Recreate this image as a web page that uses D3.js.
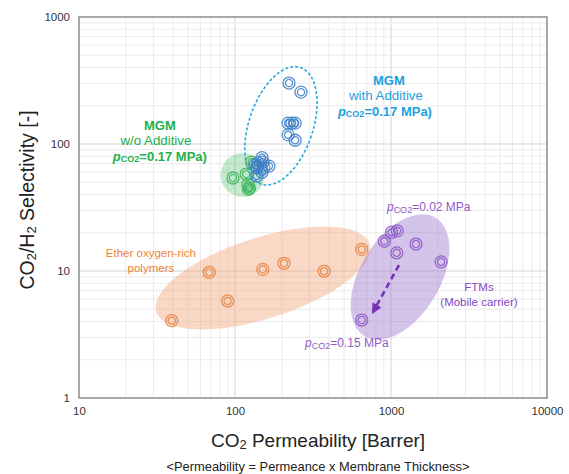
<!DOCTYPE html>
<html><head><meta charset="utf-8">
<script src="https://cdn.jsdelivr.net/npm/d3@7"></script>
<style>body{margin:0;background:#fff}svg{display:block}</style>
</head><body><svg id="c" width="569" height="474"></svg>
<script>
// ---- data ----
const xTicks = [10, 100, 1000, 10000];
const yTicks = [1, 10, 100, 1000];
// MGM with additive [CO2 permeability (Barrer), CO2/H2 selectivity]
const mgmWithAdditive = [
  [222, 302], [265, 256], [219, 146], [232, 146], [243, 146], [219, 118], [243, 107],
  [149, 78], [140, 71], [151, 72], [165, 67], [138, 65], [153, 65], [138, 56], [149, 60], [134, 68]
];
// MGM without additive
const mgmNoAdditive = [[97, 54], [118, 58], [128, 72], [121, 48], [124, 45], [122, 44]];
// Ether oxygen-rich polymers
const etherPolymers = [[39.3, 4.06], [68.4, 9.77], [89.7, 5.81], [150.7, 10.3], [206, 11.5], [373, 9.96], [649, 14.8]];
// FTMs (mobile carrier)
const ftms = [[906, 17.2], [1009, 20.2], [1096, 20.7], [1088, 13.9], [1446, 16.3], [2094, 11.8], [649, 4.11]];
// region centres (data units)
const greenRegion = [112, 57];
const blueRegion = [197, 139];
const orangeRegion = [151, 8.81];
const purpleRegion = [1143, 8.97];
// arrow 0.02 MPa -> 0.15 MPa
const arrowFrom = [1125, 11.1], arrowTo = [767, 4.75];

// ---- drawing ----
const svg = d3.select("#c");
const x = d3.scaleLog().domain([10, 10000]).range([79, 547]);
const y = d3.scaleLog().domain([1, 1000]).range([398, 17]);
const FONT = "'Liberation Sans', Arial, sans-serif";

// grid
const minor = [];
for (const d of [1, 10, 100, 1000]) for (let k = 1; k < 10; k++) minor.push(d * k);
const g = svg.append("g");
g.selectAll("line.vx").data(minor.filter(v => v > 10 && v < 10000)).join("line")
  .attr("x1", d => x(d)).attr("x2", d => x(d)).attr("y1", y(1)).attr("y2", y(1000))
  .attr("stroke", d => xTicks.includes(d) ? "#d4d4d4" : "#ebebeb").attr("stroke-width", 1);
g.selectAll("line.hy").data(minor.filter(v => v > 1 && v < 1000)).join("line")
  .attr("y1", d => y(d)).attr("y2", d => y(d)).attr("x1", x(10)).attr("x2", x(10000))
  .attr("stroke", d => yTicks.includes(d) ? "#d4d4d4" : "#ebebeb").attr("stroke-width", 1);
svg.append("rect").attr("x", x(10)).attr("y", y(1000)).attr("width", x(10000) - x(10)).attr("height", y(1) - y(1000))
  .attr("fill", "none").attr("stroke", "#8c8c8c").attr("stroke-width", 1.5);

// axes (labels only)
const xa = svg.append("g").attr("transform", `translate(0,${y(1)})`)
  .call(d3.axisBottom(x).tickValues(xTicks).tickFormat(d3.format("d")).tickSize(0).tickPadding(9));
const ya = svg.append("g").attr("transform", `translate(${x(10)},0)`)
  .call(d3.axisLeft(y).tickValues(yTicks).tickFormat(d3.format("d")).tickSize(0).tickPadding(9));
[xa, ya].forEach(a => { a.select(".domain").remove(); a.selectAll("text").attr("font-family", FONT).attr("font-size", 11.5).attr("fill", "#333"); });

// regions
function ell(c, rx, ry, rot, fill, op) {
  return svg.append("ellipse").attr("cx", 0).attr("cy", 0).attr("rx", rx).attr("ry", ry)
    .attr("transform", `translate(${x(c[0])},${y(c[1])}) rotate(${rot})`)
    .attr("fill", fill).attr("fill-opacity", op);
}
ell(orangeRegion, 112, 40.5, -17.7, "#f0a070", 0.4);
ell(purpleRegion, 40, 69, 31, "#a07cd0", 0.45);
ell(greenRegion, 22, 22, 0, "#3cb55a", 0.3);
ell(blueRegion, 32, 61.5, 18.6, "none", 0).attr("stroke", "#2aa8e2").attr("stroke-width", 1.6).attr("stroke-dasharray", "3,2");

// markers
function rings(data, color) {
  const gg = svg.append("g");
  const s = gg.selectAll("g").data(data).join("g").attr("transform", d => `translate(${x(d[0])},${y(d[1])})`);
  s.append("circle").attr("r", 6).attr("fill", "none").attr("stroke", color).attr("stroke-width", 1.3).attr("stroke-opacity", 0.85);
  s.append("circle").attr("r", 3.6).attr("fill", "none").attr("stroke", color).attr("stroke-width", 1.3).attr("stroke-opacity", 0.85);
}
rings(etherPolymers, "#e57f3d");
rings(ftms, "#8a52c6");
rings(mgmNoAdditive, "#3cb55a");
rings(mgmWithAdditive, "#3b7ec8");

// arrow
svg.append("defs").append("marker").attr("id", "ah").attr("viewBox", "0 0 10 10").attr("refX", 8).attr("refY", 5)
  .attr("markerWidth", 4).attr("markerHeight", 4).attr("orient", "auto")
  .append("path").attr("d", "M0,0 L10,5 L0,10 z").attr("fill", "#7432b6");
svg.append("line").attr("x1", x(arrowFrom[0])).attr("y1", y(arrowFrom[1])).attr("x2", x(arrowTo[0])).attr("y2", y(arrowTo[1]))
  .attr("stroke", "#7432b6").attr("stroke-width", 2.6).attr("stroke-dasharray", "6,4").attr("marker-end", "url(#ah)");

// annotation helper
function text(px, py, anchor, color, size, weight) {
  return svg.append("text").attr("x", px).attr("y", py).attr("text-anchor", anchor).attr("fill", color)
    .attr("font-family", FONT).attr("font-size", size).attr("font-weight", weight).attr("dominant-baseline", "central");
}
function pLabel(t, value, subSize) {
  t.append("tspan").attr("font-style", "italic").text("p");
  t.append("tspan").attr("font-size", subSize).attr("dy", 3).text("CO2");
  t.append("tspan").attr("dy", -3).text(value);
}
// MGM w/o additive
{
  const cx = x(33), cy = y(141);
  text(cx, cy, "middle", "#22b14c", 13, "bold").text("MGM");
  text(cx - 4, cy + 15.5, "middle", "#22b14c", 13.3, "normal").text("w/o Additive");
  pLabel(text(cx, cy + 31, "middle", "#22b14c", 13, "bold"), "=0.17 MPa)", 9);
}
// MGM with additive
{
  const cx = x(970), cy = y(319);
  text(cx, cy, "middle", "#1ea0e0", 13, "bold").text("MGM");
  text(cx - 3, cy + 15.5, "middle", "#1ea0e0", 13.3, "normal").text("with Additive");
  pLabel(text(cx - 4, cy + 31, "middle", "#1ea0e0", 13, "bold"), "=0.17 MPa)", 9);
}
// Ether oxygen-rich polymers
{
  const cx = x(28.9), cy = y(13.9);
  text(cx, cy, "middle", "#f08232", 11.5, "normal").text("Ether oxygen-rich");
  text(cx, cy + 15.5, "middle", "#f08232", 11.5, "normal").text("polymers");
}
// FTMs
{
  const cx = x(3664), cy = y(7.48);
  text(cx, cy, "middle", "#8447c2", 11.5, "normal").text("FTMs");
  text(cx, cy + 15, "middle", "#8447c2", 11.5, "normal").text("(Mobile carrier)");
  pLabel(text(x(942), y(31.9), "start", "#8f5cc8", 12, "normal"), "=0.02 MPa", 9);
  pLabel(text(x(281), y(2.71), "start", "#8f5cc8", 12, "normal"), "=0.15 MPa", 9);
}

// axis titles
{
  const t = svg.append("text").attr("transform", `translate(27,200) rotate(-90)`)
    .attr("text-anchor", "middle").attr("dominant-baseline", "central").attr("font-family", FONT).attr("font-size", 19.5).attr("fill", "#222");
  t.append("tspan").text("CO");
  t.append("tspan").attr("font-size", 13).attr("dy", 4).text("2");
  t.append("tspan").attr("dy", -4).text("/H");
  t.append("tspan").attr("font-size", 13).attr("dy", 4).text("2");
  t.append("tspan").attr("dy", -4).text(" Selectivity [-]");
}
{
  const t = svg.append("text").attr("x", 318).attr("y", 440)
    .attr("text-anchor", "middle").attr("dominant-baseline", "central").attr("font-family", FONT).attr("font-size", 19).attr("fill", "#222");
  t.append("tspan").text("CO");
  t.append("tspan").attr("font-size", 13).attr("dy", 4).text("2");
  t.append("tspan").attr("dy", -4).text(" Permeability [Barrer]");
  svg.append("text").attr("x", 318).attr("y", 466).attr("text-anchor", "middle").attr("dominant-baseline", "central")
    .attr("font-family", FONT).attr("font-size", 12.9).attr("fill", "#222").text("<Permeability = Permeance x Membrane Thickness>");
}
</script></body></html>
